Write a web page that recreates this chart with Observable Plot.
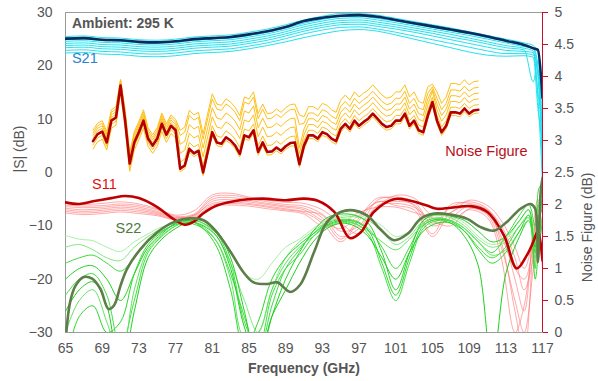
<!DOCTYPE html>
<html><head><meta charset="utf-8">
<script src="https://cdn.jsdelivr.net/npm/d3@7"></script>
<script src="https://cdn.jsdelivr.net/npm/@observablehq/plot@0.6"></script>
<style>body{margin:0;background:#fff}</style>
</head><body><div id="chart"></div>
<script>
// ---------- tick labels ----------
const xTicks = [65, 69, 73, 77, 81, 85, 89, 93, 97, 101, 105, 109, 113, 117];
const sTicks = [-30, -20, -10, 0, 10, 20, 30];
const nfTicks = [0, 0.5, 1, 1.5, 2, 2.5, 3, 3.5, 4, 4.5, 5];

// ---------- S21 (dB) ----------
const s21Freq = [65, 67, 69, 71, 73, 75, 77, 79, 81, 83, 85, 87, 89, 91, 93, 95, 97, 99, 101, 103, 105, 107, 109, 111, 113, 115, 116, 116.5, 117];
const s21Bold = [25.1, 25.2, 24.9, 24.8, 24.5, 24.4, 24.6, 25.0, 25.2, 25.4, 25.9, 26.5, 27.3, 28.4, 29.0, 29.4, 29.5, 29.2, 28.6, 28.0, 27.4, 26.8, 26.2, 25.5, 24.7, 23.9, 23.3, 23.0, 14.0];
const s21T1 = [25.5, 25.6, 25.3, 25.2, 24.9, 24.8, 25.0, 25.4, 25.6, 25.8, 26.3, 26.9, 27.7, 28.6, 29.3, 29.8, 29.8, 29.5, 28.9, 28.3, 27.7, 27.1, 26.4, 25.7, 25.0, 24.3, 23.8, 22.5, 12];
const s21T2 = [24.9, 25.0, 24.7, 24.6, 24.3, 24.2, 24.4, 24.8, 25.0, 25.2, 25.7, 26.3, 27.1, 28.0, 28.7, 29.2, 29.3, 28.9, 28.4, 27.8, 27.2, 26.6, 26.0, 25.3, 24.6, 23.8, 23.4, 20, 8];
const s21T3 = [24.6, 24.7, 24.4, 24.3, 24.0, 23.9, 24.1, 24.5, 24.7, 24.9, 25.4, 26.0, 26.8, 27.7, 28.4, 28.9, 29.0, 28.6, 28.1, 27.5, 26.9, 26.3, 25.7, 25.0, 24.3, 23.6, 23.2, 18, 3];
const s21T4 = [24.2, 24.3, 24.0, 23.9, 23.6, 23.5, 23.7, 24.1, 24.3, 24.5, 25.0, 25.6, 26.4, 27.3, 28.0, 28.5, 28.6, 28.2, 27.7, 27.1, 26.5, 25.9, 25.2, 24.5, 23.8, 23.3, 22.8, 15, 10];
const s21T5 = [23.8, 23.9, 23.6, 23.5, 23.2, 23.1, 23.3, 23.7, 23.9, 24.1, 24.6, 25.2, 26.0, 26.9, 27.6, 28.1, 28.2, 27.8, 27.3, 26.7, 26.1, 25.4, 24.8, 24.1, 23.4, 23.0, 17, 21, 5];
const s21T6 = [23.4, 23.5, 23.2, 23.1, 22.8, 22.7, 22.9, 23.3, 23.5, 23.7, 24.2, 24.8, 25.6, 26.5, 27.2, 27.7, 27.8, 27.4, 26.9, 26.3, 25.6, 24.9, 24.2, 23.5, 22.9, 22.7, 22.5, 14, -2];
const s21T7 = [22.9, 23.0, 22.7, 22.6, 22.3, 22.2, 22.4, 22.8, 23.0, 23.2, 23.7, 24.3, 25.1, 26.0, 26.7, 27.2, 27.3, 26.9, 26.3, 25.6, 24.9, 24.2, 23.5, 22.8, 22.3, 22.3, 22.0, 19, 0];
const s21T8 = [22.4, 22.5, 22.2, 22.1, 21.8, 21.7, 21.9, 22.3, 22.5, 22.7, 23.2, 23.8, 24.5, 25.3, 26.0, 26.6, 26.8, 26.5, 25.8, 25.0, 24.2, 23.4, 22.6, 22.0, 21.8, 21.9, 21.6, 12, 6];

// ---------- Noise figure (dB, right axis) ----------
const nfFreq = [68, 68.5, 69, 69.5, 70, 70.5, 71, 71.5, 72, 72.5, 73, 73.5, 74, 74.5, 75, 75.5, 76, 76.5, 77, 77.5, 78, 78.5, 79, 79.5, 80, 80.5, 81, 81.5, 82, 82.5, 83, 83.5, 84, 84.5, 85, 85.5, 86, 86.5, 87, 87.5, 88, 88.5, 89, 89.5, 90, 90.5, 91, 91.5, 92, 92.5, 93, 93.5, 94, 94.5, 95, 95.5, 96, 96.5, 97, 97.5, 98, 98.5, 99, 99.5, 100, 100.5, 101, 101.5, 102, 102.5, 103, 103.5, 104, 104.5, 105, 105.5, 106, 106.5, 107, 107.5, 108, 108.5, 109, 109.5, 110];
const nfBold = [2.99, 3.10, 3.14, 2.97, 3.31, 3.36, 3.86, 3.31, 2.64, 2.97, 3.13, 3.31, 3.03, 2.92, 3.03, 3.26, 3.09, 3.23, 3.16, 2.56, 2.61, 2.87, 2.80, 2.84, 2.50, 2.82, 3.13, 2.97, 2.95, 3.05, 3.00, 2.92, 2.79, 3.08, 3.05, 3.16, 2.82, 2.97, 2.82, 2.83, 2.89, 2.84, 2.91, 2.96, 2.97, 2.63, 2.92, 3.08, 3.08, 3.03, 3.13, 3.10, 3.03, 2.99, 3.18, 3.26, 3.18, 3.31, 3.23, 3.29, 3.34, 3.42, 3.34, 3.26, 3.21, 3.23, 3.31, 3.31, 3.42, 3.23, 3.31, 3.16, 3.13, 3.39, 3.60, 3.31, 3.13, 3.23, 3.44, 3.44, 3.42, 3.50, 3.42, 3.47, 3.48];
const nfT1 = [2.87, 2.98, 3.02, 2.85, 3.19, 3.24, 3.74, 3.19, 2.52, 2.85, 3.01, 3.19, 2.91, 2.80, 2.91, 3.14, 2.97, 3.11, 3.04, 2.51, 2.56, 2.82, 2.75, 2.79, 2.45, 2.77, 3.08, 2.92, 2.90, 3.00, 2.95, 2.87, 2.74, 3.03, 3.00, 3.11, 2.77, 2.92, 2.77, 2.78, 2.84, 2.79, 2.86, 2.91, 2.92, 2.58, 2.87, 3.03, 3.03, 2.98, 3.08, 3.05, 2.98, 2.94, 3.13, 3.21, 3.13, 3.26, 3.18, 3.24, 3.29, 3.37, 3.29, 3.21, 3.16, 3.18, 3.26, 3.26, 3.37, 3.18, 3.26, 3.11, 3.08, 3.34, 3.55, 3.26, 3.08, 3.18, 3.39, 3.39, 3.37, 3.45, 3.37, 3.42, 3.43];
const nfT2 = [2.93, 3.04, 3.08, 2.91, 3.25, 3.30, 3.80, 3.25, 2.58, 2.91, 3.07, 3.25, 2.97, 2.86, 2.97, 3.20, 3.03, 3.17, 3.10, 2.66, 2.71, 2.97, 2.90, 2.94, 2.60, 2.92, 3.23, 3.07, 3.05, 3.15, 3.10, 3.02, 2.89, 3.18, 3.15, 3.26, 2.92, 3.07, 2.92, 2.93, 2.99, 2.94, 3.01, 3.06, 3.07, 2.71, 3.00, 3.16, 3.16, 3.11, 3.21, 3.18, 3.11, 3.07, 3.26, 3.34, 3.26, 3.39, 3.31, 3.37, 3.42, 3.50, 3.42, 3.34, 3.29, 3.31, 3.39, 3.39, 3.50, 3.31, 3.39, 3.24, 3.21, 3.47, 3.68, 3.39, 3.21, 3.31, 3.52, 3.52, 3.50, 3.58, 3.50, 3.55, 3.56];
const nfT3 = [3.04, 3.15, 3.19, 3.02, 3.36, 3.41, 3.91, 3.36, 2.69, 3.02, 3.18, 3.36, 3.08, 2.97, 3.08, 3.31, 3.14, 3.28, 3.21, 2.80, 2.85, 3.11, 3.04, 3.08, 2.74, 3.06, 3.37, 3.21, 3.19, 3.29, 3.24, 3.16, 3.03, 3.32, 3.29, 3.40, 3.06, 3.21, 3.06, 3.07, 3.13, 3.08, 3.15, 3.20, 3.21, 2.80, 3.09, 3.25, 3.25, 3.20, 3.30, 3.27, 3.20, 3.16, 3.35, 3.43, 3.35, 3.48, 3.40, 3.46, 3.51, 3.59, 3.51, 3.43, 3.38, 3.40, 3.48, 3.48, 3.59, 3.40, 3.48, 3.33, 3.30, 3.56, 3.77, 3.48, 3.30, 3.40, 3.61, 3.61, 3.59, 3.67, 3.59, 3.64, 3.65];
const nfT4 = [3.08, 3.19, 3.23, 3.06, 3.40, 3.45, 3.95, 3.40, 2.73, 3.06, 3.22, 3.40, 3.12, 3.01, 3.12, 3.35, 3.18, 3.32, 3.25, 2.94, 2.99, 3.25, 3.18, 3.22, 2.88, 3.20, 3.51, 3.35, 3.33, 3.43, 3.38, 3.30, 3.17, 3.46, 3.43, 3.54, 3.20, 3.35, 3.20, 3.21, 3.27, 3.22, 3.29, 3.34, 3.35, 2.89, 3.18, 3.34, 3.34, 3.29, 3.39, 3.36, 3.29, 3.25, 3.44, 3.52, 3.44, 3.57, 3.49, 3.55, 3.60, 3.68, 3.60, 3.52, 3.47, 3.49, 3.57, 3.57, 3.68, 3.49, 3.57, 3.42, 3.39, 3.65, 3.80, 3.57, 3.39, 3.49, 3.70, 3.70, 3.68, 3.76, 3.68, 3.73, 3.74];
const nfT5 = [3.12, 3.23, 3.27, 3.10, 3.44, 3.49, 3.93, 3.44, 2.77, 3.10, 3.26, 3.44, 3.16, 3.05, 3.16, 3.39, 3.22, 3.36, 3.29, 3.08, 3.13, 3.39, 3.32, 3.36, 3.02, 3.34, 3.65, 3.49, 3.47, 3.57, 3.52, 3.44, 3.31, 3.60, 3.57, 3.68, 3.34, 3.49, 3.34, 3.35, 3.41, 3.36, 3.43, 3.48, 3.49, 3.25, 3.27, 3.43, 3.43, 3.38, 3.48, 3.45, 3.38, 3.34, 3.53, 3.61, 3.53, 3.66, 3.58, 3.64, 3.69, 3.77, 3.69, 3.61, 3.56, 3.58, 3.66, 3.66, 3.77, 3.58, 3.66, 3.51, 3.48, 3.74, 3.84, 3.66, 3.48, 3.58, 3.79, 3.79, 3.77, 3.85, 3.77, 3.82, 3.83];
const nfT6 = [3.16, 3.27, 3.31, 3.14, 3.48, 3.53, 3.95, 3.48, 2.81, 3.14, 3.30, 3.48, 3.20, 3.09, 3.20, 3.43, 3.26, 3.40, 3.33, 3.16, 3.21, 3.47, 3.40, 3.44, 3.10, 3.42, 3.73, 3.57, 3.55, 3.65, 3.60, 3.52, 3.39, 3.68, 3.65, 3.76, 3.42, 3.57, 3.42, 3.43, 3.49, 3.44, 3.51, 3.56, 3.57, 3.40, 3.37, 3.53, 3.53, 3.48, 3.58, 3.55, 3.48, 3.44, 3.63, 3.71, 3.63, 3.76, 3.68, 3.74, 3.79, 3.87, 3.79, 3.71, 3.66, 3.68, 3.76, 3.76, 3.87, 3.68, 3.76, 3.61, 3.58, 3.84, 3.88, 3.76, 3.58, 3.68, 3.89, 3.89, 3.87, 3.95, 3.87, 3.92, 3.93];

// ---------- S11 (dB) ----------
const s11BoldFreq = [65, 66.5, 68, 70, 71.5, 73, 75, 76.5, 78, 79, 80, 81.5, 84, 86.5, 89, 91, 92.5, 94.3, 96, 97.2, 98.6, 100.8, 102.6, 104.4, 105.5, 107, 109.2, 111, 112.8, 114.2, 115.3, 116, 116.5, 117];
const s11Bold = [-5.6, -5.9, -5.4, -4.8, -4.4, -4.8, -6.5, -8.4, -9.8, -9.2, -7.7, -6.2, -5.2, -4.9, -5.2, -4.9, -5.3, -7.4, -12.3, -11.2, -7.4, -5.0, -5.3, -6.2, -6.8, -6.6, -6.3, -7.4, -11.8, -18.0, -15.5, -13, -11, -16.5];
const s11Freq = [65, 67, 69, 71, 73, 75, 77, 79, 81, 83, 85, 87, 89, 91, 93, 95, 97, 99, 101, 103, 105, 107, 109, 111, 112.5, 114, 115, 116, 116.5, 117];
const s11T1 = [-5.8, -6.0, -5.8, -5.5, -5.9, -6.8, -8.0, -7.2, -4.2, -3.9, -4.6, -5.2, -5.6, -5.8, -7.0, -9.5, -11.5, -6.5, -4.3, -4.8, -8.0, -7.5, -5.2, -6.2, -9.0, -14, -18, -12, -6, -4];
const s11T2 = [-6.1, -6.3, -6.2, -5.9, -6.2, -7.0, -8.2, -7.8, -4.6, -4.3, -4.8, -5.5, -6.0, -6.3, -7.8, -11.0, -10.0, -5.2, -4.6, -5.5, -9.5, -6.5, -5.5, -6.8, -11, -20, -26, -10, -5, -8];
const s11T3 = [-6.4, -6.6, -6.5, -6.2, -6.5, -7.3, -8.4, -8.0, -5.0, -4.7, -5.2, -5.8, -6.3, -6.7, -8.5, -12.5, -8.5, -4.8, -5.0, -6.2, -11.5, -6.0, -5.8, -7.2, -13, -26, -34, -14, -8, -12];
const s11T4 = [-6.7, -7.0, -6.8, -6.5, -6.8, -7.5, -8.5, -8.2, -5.4, -5.1, -5.5, -6.0, -6.5, -7.0, -9.0, -10.5, -8.0, -5.6, -5.4, -6.0, -10.0, -8.5, -6.2, -7.0, -10, -16, -22, -16, -10, -6];
const s11T5 = [-7.0, -7.3, -7.1, -6.8, -7.1, -7.7, -8.6, -8.0, -5.8, -5.5, -5.8, -6.3, -6.8, -7.3, -8.0, -12.0, -10.5, -6.2, -5.8, -6.5, -9.0, -10.0, -6.8, -7.8, -12, -18, -20, -14, -8, -3];
const s11T6 = [-7.3, -7.6, -7.4, -7.1, -7.4, -7.9, -8.8, -8.4, -6.1, -5.8, -6.0, -6.5, -7.0, -7.5, -9.5, -13.0, -9.0, -5.5, -6.2, -7.0, -12.0, -7.5, -6.5, -8.0, -14, -24, -30, -18, -12, -18];
const s11T7 = [-7.6, -7.9, -7.7, -7.4, -7.7, -8.1, -8.9, -8.6, -6.4, -6.1, -6.3, -6.8, -7.2, -7.8, -10.0, -9.5, -7.5, -6.5, -6.5, -7.5, -8.5, -9.0, -7.0, -8.5, -16, -30, -25, -12, -7, -10];

// ---------- S22 (dB) ----------
const s22BoldFreq = [65, 65.5, 66.1, 67, 67.9, 68.8, 69.7, 70.3, 71, 71.7, 73.2, 75, 76.8, 78.6, 80.1, 81.5, 83, 84.4, 85.5, 87, 88.1, 89.5, 90.6, 92.1, 93.5, 95, 96.4, 97.9, 99.3, 100.8, 102.3, 103.7, 105.2, 107, 108.8, 110.2, 111.7, 113.1, 114.6, 115.7, 116.2, 116.5, 116.8, 117];
const s22Bold = [-32, -24.3, -21.2, -19.6, -19.9, -21.8, -25.6, -24.9, -21.2, -18.1, -14.3, -11.2, -9.3, -8.6, -9.0, -11.2, -14.9, -18.7, -20.6, -20.9, -20.6, -22.4, -21.0, -14.9, -9.3, -7.4, -7.1, -8.1, -10.6, -12.7, -11.5, -8.7, -7.7, -7.9, -8.7, -10.2, -10.9, -9.3, -6.8, -5.9, -6.8, -16.8, -3.7, -1];
const s22Freq = [65, 66.5, 68, 69.5, 71, 72.5, 74, 75.5, 77, 78.5, 80, 81.5, 83, 84.5, 86, 87.5, 89, 90.5, 92, 93.5, 95, 96.5, 98, 99.5, 101, 102.5, 104, 105.5, 107, 108.5, 110, 111.5, 113, 114.5, 115.5, 116.2, 116.6, 117];
const s22T1 = [-11.8, -12.5, -12.8, -14.0, -14.8, -13.0, -11.5, -10.2, -9.5, -9.2, -9.8, -11.5, -15, -19, -20, -17, -14, -12.5, -10.5, -9.0, -8.2, -8.0, -8.6, -10, -12, -11, -8.5, -7.8, -8.2, -9.5, -12, -13.5, -12.5, -9, -7, -12, -6, -3];
const s22T2 = [-14, -13.5, -14.5, -16, -16.5, -14, -12, -10.5, -9.2, -8.8, -9.5, -12, -17, -24, -30, -22, -16, -13, -11, -9.3, -8.5, -8.3, -9, -11, -13.5, -12, -9, -8, -8.5, -10, -12.5, -14, -13, -10, -8, -14, -9, -5];
const s22T3 = [-17, -16, -15.5, -17, -18.5, -16, -13, -11, -9.8, -9.5, -10.5, -13, -19, -27, -34, -25, -18, -14.5, -11.5, -9.5, -8.8, -9.0, -10.5, -14, -18, -14, -9.5, -8.5, -9, -10.5, -13, -15, -12, -8, -6, -10, -3, -2];
const s22T4 = [-20, -18, -17.5, -20, -24, -19, -14, -11.5, -9.5, -8.5, -9, -11, -16, -26, -36, -27, -20, -15, -11, -8.5, -7.8, -8.0, -9.5, -15, -22, -15, -9, -7.8, -8.2, -9, -11, -13, -12, -9, -7, -15, -10, -4];
const s22T5 = [-23, -20, -19, -23, -33, -24, -15, -12, -10, -9, -9.5, -11.5, -17, -28, -33, -23, -18, -15.5, -12, -10, -9.2, -9.5, -11.5, -18, -24, -17, -10.5, -9, -9.5, -11, -14, -16, -14, -10, -8.5, -18, -6, -6];
const s22T6 = [-26, -22, -20.5, -25, -38, -26, -16, -12.5, -10.5, -9.3, -10, -12, -18, -29, -35, -27, -22, -17, -13, -10.5, -9.5, -10, -12, -16, -20, -15, -11, -9.5, -9.5, -12, -17.5, -36, -19, -12, -9, -14, -8, -7];
const s22T7 = [-30, -24, -22, -28, -35, -22, -14.5, -11.8, -10, -9.2, -10.2, -13, -20, -31, -30, -22, -17, -14, -12, -10.2, -9.4, -9.6, -11, -13, -14.5, -12.5, -9.8, -8.7, -9, -10.5, -13, -15.5, -14.5, -11, -9, -16, -12, -8];
const s22T8 = [-36, -27, -25, -30, -28, -19, -13.5, -11.2, -9.6, -9.0, -10.5, -14, -22, -33, -28, -20, -16, -13.5, -11.5, -9.8, -9.0, -9.2, -10.8, -17, -23, -16, -10, -8.8, -9.2, -11, -14.5, -17, -15, -11, -8, -20, -14, -9];

// ---------- build tidy rows ----------
const rows = (fs, vs, k) => fs.map((f, i) => ({f, v: vs[i], k}));
const many = (fs, list) => list.flatMap((vs, k) => rows(fs, vs, k));

const s21Thin = many(s21Freq, [s21T1, s21T2, s21T3, s21T4, s21T5, s21T6, s21T7, s21T8]);
const nfThin = many(nfFreq, [nfT1, nfT2, nfT3, nfT4, nfT5, nfT6]);
const s11Thin = many(s11Freq, [s11T1, s11T2, s11T3, s11T4, s11T5, s11T6, s11T7]);
const s22Thin = many(s22Freq, [s22T1, s22T2, s22T3, s22T4, s22T5, s22T6, s22T7, s22T8]);

const greens = ["#a8f0a8", "#7fe87f", "#3cdc3c", "#22d322", "#40e040", "#1ecf1e", "#5fe35f", "#2bd82b"];
const nfToS = v => v * 12 - 30;   // right axis (0–5 dB) onto left scale (−30–30 dB)

const font = "'Liberation Sans', Arial, Helvetica, sans-serif";

const chart = Plot.plot({
  width: 598, height: 381,
  marginLeft: 65, marginRight: 56, marginTop: 12, marginBottom: 49,
  x: {domain: [65, 117]},
  y: {domain: [-30, 30]},
  style: {fontFamily: font, fontSize: "14px", color: "#555", background: "#fff"},
  marks: [
    Plot.frame({stroke: "#9a9a9a"}),
    // S11 / S22 thin
    Plot.line(s11Thin, {x: "f", y: "v", z: "k", stroke: "#ff7070", strokeOpacity: 0.6, strokeWidth: 1, curve: "catmull-rom", clip: true}),
    Plot.line(s22Thin, {x: "f", y: "v", z: "k", stroke: d => greens[d.k], strokeWidth: 1, curve: "catmull-rom", clip: true}),
    Plot.line(rows(s11BoldFreq, s11Bold), {x: "f", y: "v", stroke: "#c00000", strokeWidth: 2.6, curve: "catmull-rom", clip: true}),
    Plot.line(rows(s22BoldFreq, s22Bold), {x: "f", y: "v", stroke: "#5d7d49", strokeWidth: 2.6, curve: "catmull-rom", clip: true}),
    // S21
    Plot.line(s21Thin, {x: "f", y: "v", z: "k", stroke: "#22e2f0", strokeWidth: 1, curve: "monotone-x", clip: true}),
    Plot.line(rows(s21Freq, s21Bold), {x: "f", y: "v", stroke: "#0b2a5e", strokeWidth: 2.6, curve: "monotone-x", clip: true}),
    // Noise figure
    Plot.line(nfThin, {x: "f", y: d => nfToS(d.v), z: "k", stroke: "#ffbf1a", strokeWidth: 1}),
    Plot.line(rows(nfFreq, nfBold), {x: "f", y: d => nfToS(d.v), stroke: "#b40000", strokeWidth: 2.6}),
    // right axis line
    Plot.ruleX([117], {stroke: "#c8102e", strokeWidth: 1}),
    // axes
    Plot.axisX({anchor: "bottom", ticks: xTicks, tickSize: 0, tickPadding: 11, label: null, fontSize: 14}),
    Plot.axisY({anchor: "left", ticks: sTicks, tickSize: 0, tickPadding: 13, label: null, fontSize: 14}),
    Plot.axisY({anchor: "right", ticks: nfTicks.map(nfToS), tickFormat: d => String(+((d + 30) / 12).toFixed(1)),
      tickSize: 5, tickPadding: 7, stroke: "#c8102e", fill: "#555", label: null, fontSize: 14}),
    // axis titles
    Plot.text(["|S| (dB)"], {frameAnchor: "left", dx: -46, rotate: -90, fontSize: 14, fill: "#555"}),
    Plot.text(["Noise Figure (dB)"], {frameAnchor: "right", dx: 45, rotate: -90, fontSize: 14, fill: "#555"}),
    Plot.text(["Frequency (GHz)"], {frameAnchor: "bottom", dy: 40, fontSize: 14, fontWeight: "bold", fill: "#555"}),
    // annotations
    Plot.text(["Ambient: 295 K"], {x: 65.7, y: 28.0, textAnchor: "start", fontSize: 14, fontWeight: "bold", fill: "#555"}),
    Plot.text(["S21"], {x: 65.7, y: 21.4, textAnchor: "start", fontSize: 14.5, fill: "#2b80d0"}),
    Plot.text(["Noise Figure"], {x: 106.4, y: 4.0, textAnchor: "start", fontSize: 14.5, fill: "#b8101a"}),
    Plot.text(["S11"], {x: 67.9, y: -2.3, textAnchor: "start", fontSize: 14.5, fill: "#e01010"}),
    Plot.text(["S22"], {x: 70.45, y: -10.5, textAnchor: "start", fontSize: 14.5, fill: "#4f7a3a"})
  ]
});
document.getElementById("chart").appendChild(chart);
</script>
</body></html>
